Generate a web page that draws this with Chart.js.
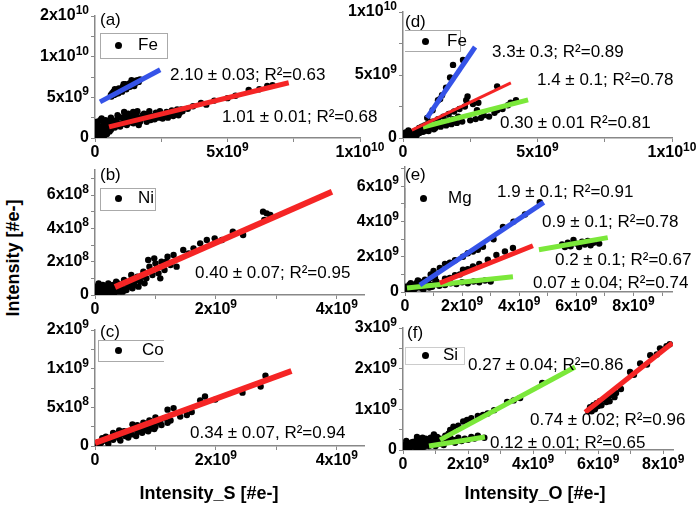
<!DOCTYPE html>
<html>
<head>
<meta charset="utf-8">
<script src="https://cdn.jsdelivr.net/npm/chart.js@4.4.1/dist/chart.umd.min.js"></script>
<style>
  body { margin: 0; width: 696px; height: 512px; overflow: hidden; background: #fff; position: relative;
         font-family: "Liberation Sans", Arial, sans-serif; }
  canvas { position: absolute; }
  .txt { position: absolute; font-size: 17px; line-height: 20px; white-space: nowrap; color: #000; }
  .box { position: absolute; border: 1px solid #aaa; }
  .dot { position: absolute; width: 7px; height: 7px; border-radius: 50%; background: #000; }
  .title { position: absolute; width: 200px; text-align: center; font-weight: bold; font-size: 18px; line-height: 20px; white-space: nowrap; }
</style>
</head>
<body>
<canvas id="pa"></canvas>
<canvas id="pb"></canvas>
<canvas id="pc"></canvas>
<canvas id="pd"></canvas>
<canvas id="pe"></canvas>
<canvas id="pf"></canvas>

<!-- panel letters -->
<div class="txt" style="left:100px;top:10px">(a)</div>
<div class="txt" style="left:100px;top:165px">(b)</div>
<div class="txt" style="left:100px;top:322px">(c)</div>
<div class="txt" style="left:405px;top:12px">(d)</div>
<div class="txt" style="left:405px;top:165px">(e)</div>
<div class="txt" style="left:407px;top:323px">(f)</div>

<!-- legend boxes (partly clipped in the original figure) -->
<div class="box" style="left:100px;top:33px;width:66px;height:24px"></div>
<div class="dot" style="left:115px;top:42px"></div>
<div class="txt" style="left:138px;top:35px">Fe</div>

<div class="box" style="left:100px;top:188px;width:54px;height:21px"></div>
<div class="dot" style="left:115px;top:195px"></div>
<div class="txt" style="left:138px;top:188px">Ni</div>

<div class="box" style="left:98px;top:340px;width:65px;height:20px;border-right:none"></div>
<div class="dot" style="left:115px;top:347px"></div>
<div class="txt" style="left:142px;top:340px">Co</div>

<div class="box" style="left:405px;top:30px;width:55px;height:20px;border-left:none"></div>
<div class="dot" style="left:422px;top:38px"></div>
<div class="txt" style="left:447px;top:31px">Fe</div>

<div class="box" style="left:405px;top:188px;width:0;height:20px;border-top:none;border-bottom:none;border-right:none"></div>
<div class="dot" style="left:420px;top:195px"></div>
<div class="txt" style="left:448px;top:188px">Mg</div>

<div class="box" style="left:405px;top:347px;width:58px;height:16px;border-color:#ccc"></div>
<div class="dot" style="left:422px;top:352px"></div>
<div class="txt" style="left:443px;top:345px">Si</div>

<!-- fit annotations -->
<div class="txt" style="left:170px;top:65px">2.10 ± 0.03; R²=0.63</div>
<div class="txt" style="left:222px;top:107px">1.01 ± 0.01; R²=0.68</div>
<div class="txt" style="left:195px;top:263px">0.40 ± 0.07; R²=0.95</div>
<div class="txt" style="left:190px;top:423px">0.34 ± 0.07, R²=0.94</div>
<div class="txt" style="left:492px;top:42px">3.3± 0.3; R²=0.89</div>
<div class="txt" style="left:537px;top:70px">1.4 ± 0.1; R²=0.78</div>
<div class="txt" style="left:500px;top:113px">0.30 ± 0.01 R²=0.81</div>
<div class="txt" style="left:497px;top:182px">1.9 ± 0.1; R²=0.91</div>
<div class="txt" style="left:542px;top:212px">0.9 ± 0.1; R²=0.78</div>
<div class="txt" style="left:555px;top:250px">0.2 ± 0.1; R²=0.67</div>
<div class="txt" style="left:533px;top:273px">0.07 ± 0.04; R²=0.74</div>
<div class="txt" style="left:468px;top:355px">0.27 ± 0.04; R²=0.86</div>
<div class="txt" style="left:530px;top:410px">0.74 ± 0.02; R²=0.96</div>
<div class="txt" style="left:490px;top:433px">0.12 ± 0.01; R²=0.65</div>

<!-- axis titles -->
<div class="title" style="left:109px;top:483px">Intensity_S [#e-]</div>
<div class="title" style="left:435px;top:483px">Intensity_O [#e-]</div>
<div class="title" style="left:-87px;top:248px;transform:rotate(-90deg)">Intensity [#e-]</div>

<script>
// all values in units of 1e9 electrons, [x, y]
const ptsA = [
  [0.05,0.2],[0.1,0.6],[0.15,1.0],[0.2,0.4],[0.25,1.4],[0.3,0.8],[0.35,1.8],[0.4,1.2],[0.45,0.5],[0.5,2.0],
  [0.55,1.5],[0.6,1.0],[0.05,1.2],[0.1,1.6],[0.2,2.2],[0.3,2.0],[0.65,2.1],[0.7,1.6],[0.15,0.1],[0.35,0.3],
  [0.0,0.5],[0.02,1.0],[0.08,2.0],[0.25,2.4],[0.4,2.2],[0.45,1.7],[0.55,0.8],[0.25,0.2],[0.02,0.05],[0.6,2.3],
  [0.5,1.2],[0.6,2.5],[0.75,1.3],[0.9,2.6],[1.0,1.7],[1.1,3.2],[1.2,1.6],[1.35,2.3],[1.45,1.8],[1.6,3.3],
  [1.75,2.4],[1.85,3.0],[1.95,2.0],[2.15,2.6],[2.25,2.3],[2.35,2.8],[2.45,3.3],[2.55,2.4],[2.65,2.9],[2.75,2.5],
  [2.85,3.1],[2.95,2.7],[3.05,3.3],[3.15,2.8],[3.25,3.5],
  [0.8,2.2],[0.9,1.8],[1.0,2.5],[1.1,2.0],[1.15,2.9],[1.2,2.4],[1.3,1.9],[1.4,2.7],[1.5,2.2],[1.55,3.1],
  [1.6,2.6],[1.7,2.0],[1.8,2.8],[1.9,2.4],[2.0,2.9],[2.1,2.2],[2.2,2.7],[2.3,3.1],[2.4,2.5],[2.5,3.0],
  [2.6,2.6],[2.7,3.2],[2.8,2.8],[2.9,3.4],[3.0,3.0],[3.1,3.5],[3.2,3.1],[3.3,3.3],[0.85,2.8],[1.25,3.0],
  [2.05,3.3],[1.65,1.6],[0.95,1.4],[1.44,3.2],
  [3.5,3.6],[3.7,3.9],[4.0,4.3],[4.2,4.1],[4.5,4.6],[5.0,4.9],[5.3,5.2],[5.8,5.9],[6.2,6.0],[6.5,6.4],[6.7,6.5],
  [0.6,5.3],[0.65,5.5],[0.7,5.7],[0.8,5.6],[0.85,5.9],[0.9,6.1],[1.0,6.0],[1.05,6.3],[1.1,6.1],[1.2,6.5],
  [1.25,6.3],[1.3,6.7],[1.4,6.8],[1.45,6.6],[1.5,7.0],[1.6,7.1],[1.7,7.2],[0.75,6.0],[0.95,5.8],[1.15,6.6],
  [0.62,5.1],[0.72,5.3],[0.88,5.5],[1.02,5.7],[1.18,6.0],[1.32,6.3],[1.48,6.4],[1.55,6.8],[1.65,6.9],[1.38,7.1],
  [1.08,6.6],[0.78,5.4]
];
const fitsA = [[0.19,4.44,2.46,8.4],[0.53,1.36,7.31,6.79]];

const ptsB = [
  [0.02,0.03],[0.05,0.05],[0.08,0.02],[0.1,0.04],[0.13,0.06],[0.16,0.03],[0.2,0.05],[0.23,0.02],[0.26,0.04],[0.3,0.06],
  [0.33,0.03],[0.36,0.05],[0.4,0.02],[0.03,0.01],[0.12,0.01],[0.22,0.07],[0.28,0.01],[0.38,0.07],
  [0.0,0.05],[0.06,0.07],[0.18,0.01],[0.24,0.06],[0.32,0.01],[0.42,0.05],[0.46,0.02],[0.15,0.05],[0.35,0.08],
  [0.45,0.04],[0.5,0.07],[0.55,0.05],[0.6,0.09],[0.65,0.06],[0.7,0.11],[0.75,0.08],[0.8,0.14],[0.85,0.1],[0.9,0.17],
  [0.95,0.12],[1.0,0.19],[1.05,0.13],[1.1,0.2],[1.15,0.15],[0.88,0.21],[0.98,0.22],[1.2,0.23],[1.25,0.18],[1.35,0.17],
  [1.3,0.24],[0.6,0.12],[0.72,0.05],[1.08,0.1],[0.82,0.07],
  [0.52,0.03],[0.58,0.07],[0.68,0.09],[0.78,0.11],[0.92,0.14],[1.02,0.16],[1.12,0.17],[1.18,0.2],[0.48,0.09],[0.62,0.04],
  [1.46,0.27],[1.55,0.25],[1.63,0.28],[1.74,0.31],[1.85,0.33],[1.98,0.34],[2.1,0.33],[2.28,0.38],[2.45,0.36],
  [2.78,0.5],[2.84,0.49],[2.8,0.45],[2.9,0.48]
];
const fitsB = [[0.33,0.048,3.92,0.62]];

const ptsC = [
  [0.02,0.03],[0.05,0.05],[0.1,0.04],[0.15,0.07],[0.2,0.06],[0.25,0.1],[0.3,0.08],[0.35,0.13],[0.4,0.1],[0.45,0.16],
  [0.5,0.13],[0.55,0.19],[0.6,0.15],[0.65,0.22],[0.7,0.18],[0.75,0.25],[0.8,0.2],[0.85,0.27],[0.9,0.22],[0.95,0.3],
  [1.0,0.25],[1.05,0.32],[1.1,0.27],[1.15,0.36],[1.2,0.3],[0.3,0.17],[0.55,0.11],[0.7,0.27],[0.9,0.33],[1.0,0.37],
  [0.12,0.1],[0.4,0.2],[0.62,0.28],[0.8,0.3],[1.25,0.33],
  [0.07,0.01],[0.22,0.03],[0.32,0.12],[0.42,0.07],[0.48,0.19],[0.58,0.16],[0.68,0.13],[0.72,0.22],[0.78,0.17],[0.88,0.19],
  [0.92,0.28],[0.98,0.22],[1.08,0.3],[0.82,0.24],[0.18,0.12],
  [1.2,0.47],[1.3,0.49],[1.41,0.38],[1.52,0.4],[1.6,0.44],[1.74,0.59],[1.82,0.64],[1.99,0.6],[2.44,0.69],[2.74,0.77],[2.82,0.91]
];
const fitsC = [[0.0,0.04,3.25,0.97]];

const ptsD = [
  [0.05,0.1],[0.1,0.2],[0.15,0.05],[0.2,0.3],[0.25,0.15],[0.3,0.4],[0.35,0.2],[0.4,0.5],[0.45,0.3],[0.5,0.6],
  [0.55,0.35],[0.6,0.8],[0.65,0.45],[0.7,0.9],[0.75,0.5],[0.8,1.0],[0.85,0.6],[0.9,1.1],[0.95,0.55],[1.0,0.9],
  [0.1,0.45],[0.2,0.6],[0.3,0.1],[0.5,0.2],[0.0,0.05],[0.15,0.35],[0.4,0.25],[0.6,0.4],[0.7,0.6],[0.85,0.8],
  [1.1,1.3],[1.2,0.8],[1.3,1.5],[1.4,0.9],[1.5,1.7],[1.6,1.0],[1.7,1.9],[1.8,1.1],[1.9,2.1],[2.0,1.2],
  [2.1,2.3],[2.2,1.3],[2.3,2.5],[2.4,3.3],[2.35,3.0],[2.5,1.4],[2.6,2.7],[2.7,1.5],[2.8,2.8],[2.9,1.6],
  [3.0,1.8],[3.2,1.7],[3.4,2.0],[3.5,2.2],[3.7,2.3],[3.9,2.6],[4.0,2.8],[4.2,3.0],[3.5,4.1],[2.75,2.2],
  [1.25,1.1],[1.65,1.4],[2.05,1.7],[1.15,0.7],[1.45,1.2],[1.85,1.5],
  [0.9,1.6],[1.1,2.2],[1.3,3.0],[1.38,3.1],[1.45,3.4],[1.75,4.8],[1.86,5.8],[2.23,6.2],[1.6,4.0]
];
const fitsD = [[0.89,1.59,2.68,7.22],[0.33,0.63,4.01,4.37],[0.74,0.87,4.65,3.02]];

const ptsE = [
  [0.05,0.05],[0.1,0.2],[0.15,0.1],[0.2,0.3],[0.25,0.15],[0.3,0.4],[0.35,0.2],[0.4,0.5],[0.45,0.25],[0.5,0.6],
  [0.55,0.3],[0.6,0.45],[0.7,0.7],[0.75,0.35],[0.8,0.55],[0.9,0.8],[1.0,0.45],[1.1,0.6],[0.2,0.5],[0.65,0.15],
  [0.85,0.25],[1.2,0.35],[0.0,0.3],[0.3,0.05],[0.45,0.65],[0.6,0.2],[0.95,0.3],[1.05,0.8],[0.15,0.4],[0.7,0.4],
  [1.4,0.4],[1.6,0.5],[1.8,0.45],[2.0,0.55],[2.2,0.5],[2.4,0.6],[2.6,0.55],[2.8,0.65],[3.0,0.6],
  [1.4,0.75],[1.57,0.8],[1.75,0.95],[1.92,1.0],[2.03,1.26],[2.2,1.3],[2.38,1.45],[2.6,1.6],[2.9,1.83],[3.2,2.1],
  [3.5,2.3],[3.78,2.5],
  [0.9,1.0],[1.0,1.2],[1.22,1.37],[1.4,1.6],[1.57,1.66],[1.75,1.8],[2.03,2.0],[2.2,2.2],[2.38,2.3],[2.55,2.4],
  [2.73,2.57],[3.1,3.0],[3.43,3.7],[3.8,4.0],[4.2,4.4],[4.72,5.1],
  [5.5,2.7],[5.6,2.55],[5.7,2.8],[5.8,2.6],[5.9,2.95],[6.0,2.75],[6.1,2.55],[6.2,2.85],[6.3,2.7],[6.4,2.9],
  [6.5,2.65],[6.6,2.8],[6.8,2.75]
];
const fitsE = [[0.52,0.4,4.86,5.09],[1.22,0.51,4.48,2.63],[0.07,0.23,3.78,0.86],[4.69,2.4,7.1,3.09]];

const ptsF = [
  [0.05,0.05],[0.1,0.1],[0.15,0.05],[0.2,0.15],[0.25,0.08],[0.3,0.2],[0.35,0.12],[0.4,0.22],[0.43,0.32],[0.45,0.1],
  [0.5,0.18],[0.55,0.25],[0.6,0.12],[0.65,0.2],[0.7,0.28],[0.75,0.15],[0.8,0.22],[0.85,0.3],[0.9,0.12],[0.95,0.25],
  [1.0,0.2],[1.05,0.32],[1.1,0.15],[1.15,0.28],[1.2,0.22],[1.3,0.35],[1.35,0.2],[1.45,0.3],[0.1,0.22],[0.55,0.05],
  [1.55,0.25],[1.7,0.3],[1.9,0.28],[2.1,0.32],[2.3,0.35],[2.5,0.3],
  [0.0,0.12],[0.2,0.05],[0.3,0.1],[0.4,0.05],[0.65,0.08],[0.8,0.1],[1.0,0.1],[1.25,0.12],[1.6,0.18],[1.8,0.22],
  [2.0,0.25],[2.2,0.28],[0.25,0.18],[0.6,0.3],[0.95,0.38],[1.4,0.4],
  [1.45,0.49],[1.55,0.57],[1.7,0.6],[1.85,0.7],[1.97,0.74],[2.1,0.78],[2.3,0.84],[2.46,0.86],[2.6,0.9],[2.8,0.98],
  [3.2,1.18],[3.4,1.22],[3.6,1.28],[4.28,1.65],
  [5.7,0.95],[5.75,1.05],[5.85,1.1],[5.9,1.0],[5.95,1.15],[6.05,1.2],[6.1,1.1],[6.2,1.25],[6.3,1.3],[6.35,1.2],
  [6.45,1.35],[6.55,1.4],[6.7,1.5],[6.98,1.92],[7.1,1.85],[7.29,2.13],[7.5,2.1],[7.6,2.33],[7.8,2.35],[7.9,2.5],
  [8.1,2.55],[8.2,2.6],[5.8,0.95],[6.0,1.08],[6.25,1.18],[6.5,1.3]
];
const fitsF = [[1.14,0.25,5.29,2.04],[0.8,0.1,2.52,0.32],[5.6,0.93,8.28,2.63]];

const BLUE = '#3553e8', RED = '#f52525', GREEN = '#7be83a';
const FONT = '"Liberation Sans", Arial, sans-serif';

function isMajor(v, major) {
  const k = v / major;
  return Math.abs(k - Math.round(k)) < 1e-6;
}

// Origin-style label parts: mantissa rounded to an integer, e.g. 1.5e10 -> 2x10^10
function sciParts(v) {
  const val = v * 1e9;
  if (Math.abs(val) < 1) return { m: '0', e: '' };
  let e = Math.floor(Math.log10(val) + 1e-9);
  let m = Math.round(val / Math.pow(10, e));
  if (m === 10) { m = 1; e += 1; }
  return { m: m + 'x10', e: String(e) };
}

// draws the major tick labels with a proper raised exponent
const sciLabels = {
  id: 'sciLabels',
  afterDraw(chart, args, opts) {
    const ctx = chart.ctx;
    ctx.save();
    ctx.fillStyle = '#000';
    ['x', 'y'].forEach(k => {
      const s = chart.scales[k];
      s.ticks.forEach(t => {
        if (!isMajor(t.value, opts[k])) return;
        const p = sciParts(t.value);
        ctx.font = 'bold 16px ' + FONT;
        const wm = ctx.measureText(p.m).width;
        ctx.font = 'bold 12px ' + FONT;
        const we = p.e ? ctx.measureText(p.e).width : 0;
        const pos = s.getPixelForValue(t.value);
        let x0, ym;
        if (k === 'x') { x0 = pos - (wm + we) / 2; ym = s.top + 15; }
        else { x0 = s.right - 6 - wm - we; ym = pos; }
        ctx.textAlign = 'left';
        ctx.textBaseline = 'middle';
        ctx.font = 'bold 16px ' + FONT;
        ctx.fillText(p.m, x0, ym);
        if (p.e) {
          ctx.font = 'bold 12px ' + FONT;
          ctx.textBaseline = 'alphabetic';
          ctx.fillText(p.e, x0 + wm, ym - 2);
        }
      });
    });
    ctx.restore();
  }
};

function axis(min, max, step, fit) {
  return {
    type: 'linear', min: min, max: max,
    ticks: {
      stepSize: step, includeBounds: false, autoSkip: false, maxRotation: 0, padding: 3,
      callback: () => ''
    },
    grid: { drawOnChartArea: false, drawTicks: true, tickLength: 4, color: '#888' },
    border: { display: true, color: '#888', width: 1.5 },
    afterFit: fit
  };
}

function panel(id, area, xr, yr, fits, colors, widths, pts) {
  const Wy = 60, Hx = 30, padT = 12, padR = 32;
  const cv = document.getElementById(id);
  cv.width = (area.r - area.l) + Wy + padR;
  cv.height = (area.b - area.t) + Hx + padT;
  cv.style.left = (area.l - Wy) + 'px';
  cv.style.top = (area.t - padT) + 'px';

  const datasets = fits.map((f, i) => ({
    data: [{ x: f[0], y: f[1] }, { x: f[2], y: f[3] }],
    showLine: true, borderColor: colors[i], borderWidth: widths[i],
    pointRadius: 0, borderCapStyle: 'butt'
  }));
  datasets.push({
    data: pts.map(p => ({ x: p[0], y: p[1] })),
    pointRadius: 3.2, pointBackgroundColor: '#000', pointBorderWidth: 0, showLine: false
  });

  new Chart(cv, {
    type: 'scatter',
    data: { datasets: datasets },
    plugins: [sciLabels],
    options: {
      responsive: false, animation: false, devicePixelRatio: 1,
      layout: { padding: { top: padT, right: padR, left: 0, bottom: 0 } },
      plugins: {
        legend: { display: false }, tooltip: { enabled: false },
        sciLabels: { x: xr[3], y: yr[3] }
      },
      scales: {
        x: axis(xr[0], xr[1], xr[2], s => { s.height = Hx; }),
        y: axis(yr[0], yr[1], yr[2], s => { s.width = Wy; })
      }
    }
  });
}

// ranges: [min, max, tick step, labelled step]
panel('pa', { l: 95, r: 360, t: 16, b: 138 }, [0, 10, 2.5, 5], [0, 15, 2.5, 5], fitsA, [BLUE, RED], [5, 5], ptsA);
panel('pb', { l: 95, r: 364, t: 170, b: 295 }, [0, 4.45, 1, 2], [0, 0.75, 0.1, 0.2], fitsB, [RED], [6], ptsB);
panel('pc', { l: 95, r: 364, t: 330, b: 446 }, [0, 4.45, 1, 2], [0, 1.5, 0.25, 0.5], fitsC, [RED], [6], ptsC);
panel('pd', { l: 403, r: 672, t: 12, b: 138 }, [0, 10, 2.5, 5], [0, 10, 2.5, 5], fitsD, [BLUE, RED, GREEN], [5, 3, 5], ptsD);
panel('pe', { l: 405, r: 672, t: 167, b: 292 }, [0, 9.35, 1, 2], [0, 7.1, 1, 2], fitsE, [BLUE, RED, GREEN, GREEN], [5, 5, 5, 5], ptsE);
panel('pf', { l: 403, r: 673, t: 328, b: 450 }, [0, 8.3, 1, 2], [0, 3, 0.5, 1], fitsF, [GREEN, GREEN, RED], [5, 5, 5], ptsF);
</script>
</body>
</html>
